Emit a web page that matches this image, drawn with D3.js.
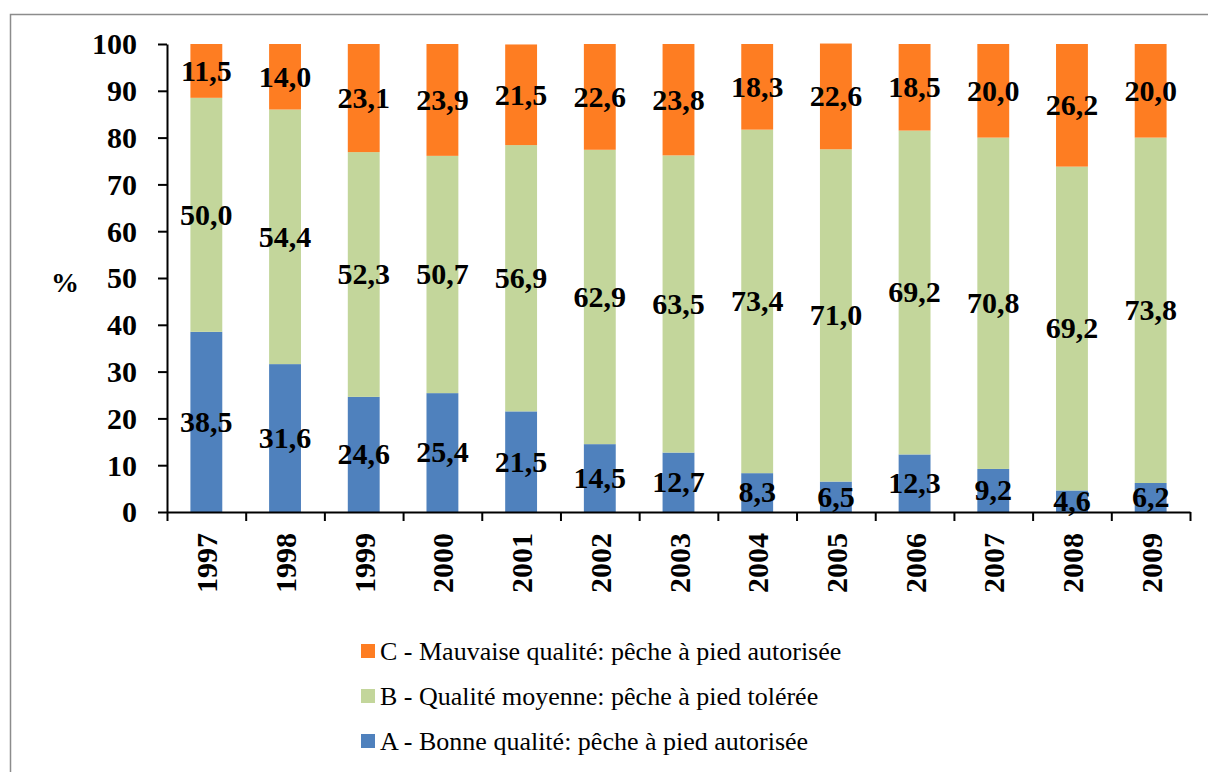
<!DOCTYPE html>
<html lang="fr">
<head>
<meta charset="UTF-8">
<title>Qualité des zones de pêche à pied 1997-2009</title>
<style>
  body { margin: 0; background: #fff; }
  svg, svg text { font-family: 'Liberation Serif', 'Times New Roman', Times, serif !important; }
</style>
</head>
<body>
<script src="https://d3js.org/d3.v7.min.js"></script>
<script>
  // données
  var years = ["1997", "1998", "1999", "2000", "2001", "2002", "2003", "2004", "2005", "2006", "2007", "2008", "2009"];
  var bonne = [38.5, 31.6, 24.6, 25.4, 21.5, 14.5, 12.7, 8.3, 6.5, 12.3, 9.2, 4.6, 6.2];
  var moyenne = [50.0, 54.4, 52.3, 50.7, 56.9, 62.9, 63.5, 73.4, 71.0, 69.2, 70.8, 69.2, 73.8];
  var mauvaise = [11.5, 14.0, 23.1, 23.9, 21.5, 22.6, 23.8, 18.3, 22.6, 18.5, 20.0, 26.2, 20.0];
  var yTicks = [0, 10, 20, 30, 40, 50, 60, 70, 80, 90, 100];

  var series = [
    { key: "A", values: bonne, color: "#4f81bd", label: "A - Bonne qualité: pêche à pied autorisée" },
    { key: "B", values: moyenne, color: "#c3d69b", label: "B - Qualité moyenne: pêche à pied tolérée" },
    { key: "C", values: mauvaise, color: "#fe7d22", label: "C - Mauvaise qualité: pêche à pied autorisée" }
  ];

  var FONT = "'Liberation Serif', 'Times New Roman', Times, serif";
  var W = 1208, H = 772;
  var plot = { left: 167, right: 1190, top: 44, bottom: 512 };

  var svg = d3.select("body").append("svg")
    .attr("width", W)
    .attr("height", H)
    .attr("font-family", FONT);

  // cadre gris du graphique
  svg.append("rect")
    .attr("x", 10.5).attr("y", 14.5)
    .attr("width", W + 20).attr("height", H + 20)
    .attr("fill", "none")
    .attr("stroke", "#8c8c8c")
    .attr("stroke-width", 1.5);

  var table = years.map(function(y, i) {
    return { year: y, A: bonne[i], B: moyenne[i], C: mauvaise[i] };
  });
  var stacked = d3.stack().keys(series.map(function(s) { return s.key; }))(table);

  var x = d3.scaleBand().domain(years).range([plot.left, plot.right]).paddingInner(0.595).paddingOuter(0.2975);
  var xEdge = d3.scaleLinear().domain([0, years.length]).range([plot.left, plot.right]);
  var y = d3.scaleLinear().domain([0, 100]).range([plot.bottom, plot.top]);

  var comma = function(v) { return d3.format(".1f")(v).replace(".", ","); };

  // barres
  var groups = svg.selectAll("g.serie")
    .data(stacked)
    .enter().append("g")
    .attr("class", "serie")
    .attr("fill", function(d, i) { return series[i].color; });

  groups.selectAll("rect")
    .data(function(d) { return d; })
    .enter().append("rect")
    .attr("x", function(d) { return x(d.data.year); })
    .attr("y", function(d) { return y(d[1]); })
    .attr("width", x.bandwidth())
    .attr("height", function(d) { return y(d[0]) - y(d[1]); });

  // axe Y
  var yAxis = svg.append("g")
    .attr("transform", "translate(" + plot.left + ",0)")
    .call(d3.axisLeft(y).tickValues(yTicks).tickSize(9).tickSizeOuter(0).tickPadding(21));
  yAxis.attr("font-family", FONT).attr("font-size", 30).attr("font-weight", "bold");
  yAxis.selectAll("path, line").attr("stroke", "#000").attr("stroke-width", 2);
  yAxis.selectAll("text").attr("fill", "#000").attr("dy", "0.33em");

  // axe X (graduations aux limites des catégories)
  var xAxis = svg.append("g")
    .attr("transform", "translate(0," + plot.bottom + ")")
    .call(d3.axisBottom(xEdge).tickValues(d3.range(years.length + 1)).tickSize(9).tickSizeOuter(0).tickFormat(""));
  xAxis.selectAll("path, line").attr("stroke", "#000").attr("stroke-width", 2);

  svg.selectAll("text.year")
    .data(years)
    .enter().append("text")
    .attr("class", "year")
    .attr("transform", function(d) {
      return "translate(" + (x(d) + x.bandwidth() / 2 + 11) + "," + (plot.bottom + 21) + ") rotate(-90)";
    })
    .attr("text-anchor", "end")
    .attr("font-size", 30)
    .attr("font-weight", "bold")
    .text(function(d) { return d; });

  // titre de l'axe
  svg.append("text")
    .attr("x", 65).attr("y", 282)
    .attr("dy", "0.35em")
    .attr("text-anchor", "middle")
    .attr("font-size", 28)
    .attr("font-weight", "bold")
    .text("%");

  // étiquettes de valeurs
  groups.selectAll("text.val")
    .data(function(d) { return d; })
    .enter().append("text")
    .attr("class", "val")
    .attr("x", function(d) { return x(d.data.year) + x.bandwidth() / 2; })
    .attr("y", function(d) { return y((d[0] + d[1]) / 2); })
    .attr("dy", "0.33em")
    .attr("text-anchor", "middle")
    .attr("font-size", 30)
    .attr("font-weight", "bold")
    .attr("fill", "#000")
    .text(function(d) { return comma(d[1] - d[0]); });

  // légende
  var legendOrder = series.slice().reverse();
  var legend = svg.selectAll("g.legend")
    .data(legendOrder)
    .enter().append("g")
    .attr("class", "legend")
    .attr("transform", function(d, i) { return "translate(361," + (660 + i * 45) + ")"; });

  legend.append("rect")
    .attr("x", 0).attr("y", -16)
    .attr("width", 14).attr("height", 14)
    .attr("fill", function(d) { return d.color; });

  legend.append("text")
    .attr("x", 19).attr("y", 0)
    .attr("font-size", 26)
    .attr("fill", "#000")
    .text(function(d) { return d.label; });
</script>
</body>
</html>
